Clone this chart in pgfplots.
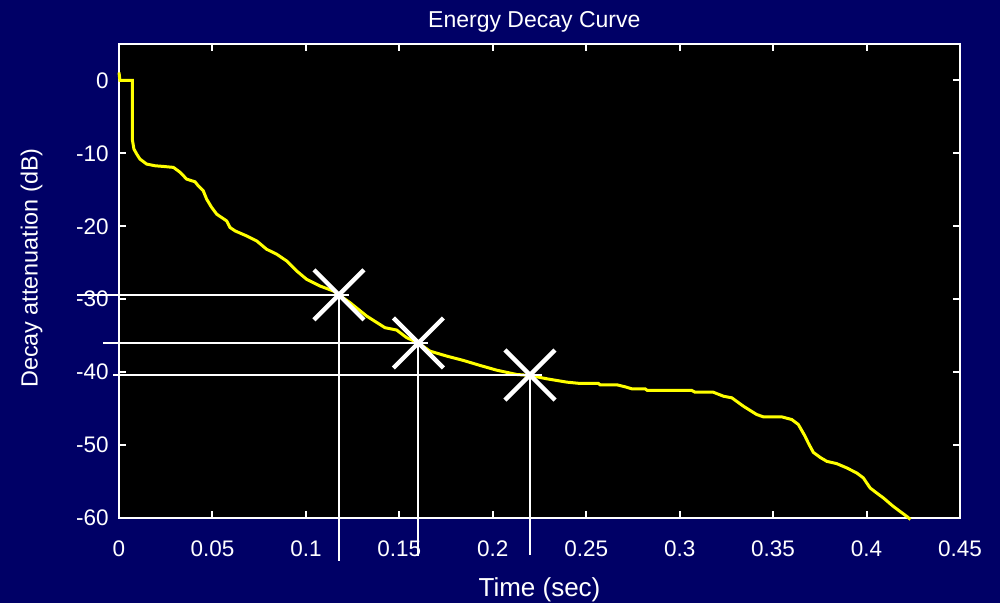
\documentclass[border=0pt]{standalone}
\usepackage{pgfplots}
\pgfplotsset{compat=1.18}
\usepackage{fontspec}
\setmainfont{Liberation Sans}
\definecolor{navybg}{RGB}{0,0,102}
\definecolor{curveyellow}{RGB}{255,255,0}
\begin{document}
\begin{tikzpicture}
\path[use as bounding box, fill=navybg] (-59.5pt,-42.5pt) rectangle (440.5pt,259pt);
\begin{axis}[
  scale only axis,
  width=420.5pt, height=237pt,
  xmin=0, xmax=0.45, ymin=-60, ymax=5,
  clip=false,
  axis background/.style={fill=black},
  axis line style={white, line width=1pt},
  every tick/.style={white, line width=1pt},
  major tick length=3.5pt,
  tick align=inside,
  xtick pos=both, ytick pos=both,
  xtick={0,0.05,0.1,0.15,0.2,0.25,0.3,0.35,0.4,0.45},
  xticklabels={0,0.05,0.1,0.15,0.2,0.25,0.3,0.35,0.4,0.45},
  ytick={-60,-50,-40,-30,-20,-10,0},
  yticklabels={-60,-50,-40,-30,-20,-10,0},
  xticklabel style={font=\fontsize{11.25}{13}\selectfont, text=white, anchor=base, yshift=-19.4pt, inner sep=0pt},
  yticklabel style={font=\fontsize{11.25}{13}\selectfont, text=white, anchor=east, xshift=-5pt, inner sep=0pt},
  every axis title shift=0pt,
  title={Energy Decay Curve},
  title style={font=\fontsize{11.5}{14}\selectfont, text=white, at={(axis description cs:0.5,1)}, anchor=base, yshift=8.2pt, xshift=-2.6pt, inner sep=0pt},
  xlabel={Time (sec)},
  xlabel style={font=\fontsize{13}{15}\selectfont, text=white, at={(axis description cs:0.5,0)}, anchor=base, yshift=-39.4pt, inner sep=0pt},
  ylabel={Decay attenuation (dB)},
  ylabel style={font=\fontsize{11.7}{14}\selectfont, text=white, at={(axis description cs:0,0.527)}, anchor=center, yshift=43.7pt, inner sep=0pt},
]
\addplot[curveyellow, line width=1.5pt] coordinates {
(0,1.1) (0.0005,0) (0.0071,0) (0.0071,-8.04) (0.0080,-9.41) (0.0095,-10.1) (0.0112,-10.78)
(0.0148,-11.47) (0.0193,-11.70) (0.0237,-11.79) (0.0291,-11.92) (0.0326,-12.57) (0.0362,-13.53)
(0.0407,-13.90) (0.0424,-14.45) (0.0451,-15.14) (0.0469,-16.28) (0.0496,-17.42) (0.0523,-18.34)
(0.0576,-19.26) (0.0594,-20.16) (0.0621,-20.63) (0.0683,-21.32) (0.0737,-22.01) (0.0790,-23.15)
(0.0844,-23.83) (0.0897,-24.75) (0.0951,-26.13) (0.1004,-27.27) (0.1076,-28.19) (0.1147,-28.87)
(0.1177,-29.4) (0.1236,-30.47) (0.1325,-32.31) (0.1423,-33.90) (0.1486,-34.23) (0.1539,-35.27)
(0.1602,-36.0) (0.1664,-37.12) (0.1754,-37.80) (0.1842,-38.39) (0.1932,-39.08) (0.2021,-39.73)
(0.2128,-40.32) (0.2199,-40.45) (0.2289,-40.91) (0.2396,-41.37) (0.2467,-41.55) (0.2565,-41.55)
(0.2574,-41.73) (0.2663,-41.73) (0.2708,-42.01) (0.2743,-42.28) (0.2815,-42.28) (0.2827,-42.51)
(0.3065,-42.51) (0.3082,-42.75) (0.3180,-42.75) (0.3234,-43.30) (0.3279,-43.52) (0.3341,-44.67)
(0.3412,-45.81) (0.3448,-46.13) (0.3546,-46.13) (0.3600,-46.50) (0.3635,-47.18) (0.3671,-48.79)
(0.3688,-49.70) (0.3715,-50.99) (0.3751,-51.68) (0.3787,-52.23) (0.3840,-52.54) (0.3894,-53.13)
(0.3947,-53.82) (0.3983,-54.51) (0.4019,-55.88) (0.4054,-56.57) (0.4090,-57.25) (0.4143,-58.41)
(0.4215,-59.78) (0.4235,-60.2)
};
% horizontal reference lines
\addplot[white, line width=1pt] coordinates {(-0.0226,-29.4) (0.1232,-29.4)};
\addplot[white, line width=1pt] coordinates {(-0.0084,-36.0) (0.1653,-36.0)};
\addplot[white, line width=1pt] coordinates {(-0.0030,-40.4) (0.2262,-40.4)};
% vertical reference lines
\addplot[white, line width=1pt] coordinates {(0.1177,-29.4) (0.1177,-65.87)};
\addplot[white, line width=1pt] coordinates {(0.1602,-36.0) (0.1602,-65.27)};
\addplot[white, line width=1pt] coordinates {(0.2199,-40.4) (0.2199,-65.04)};
% markers
\addplot[only marks, mark=x, mark size=17.7pt, white, line width=2.2pt] coordinates {
(0.1177,-29.4) (0.1602,-36.0) (0.2199,-40.4)
};
\end{axis}
\end{tikzpicture}
\end{document}
